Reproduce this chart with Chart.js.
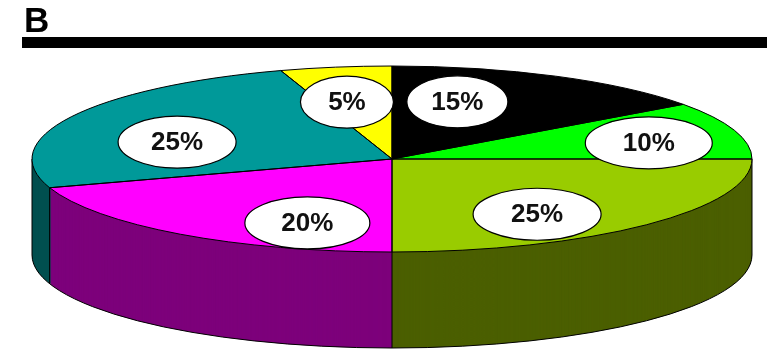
<!DOCTYPE html>
<html lang="en">
<head>
<meta charset="UTF-8">
<title>Pie B</title>
<script src="https://cdn.jsdelivr.net/npm/chart.js"></script>
<style>
    body { margin: 0; background: #ffffff; }
    .wrap { width: 767px; height: 350px; position: relative; }
</style>
</head>
<body>
<div class="wrap"><canvas id="pieChart"></canvas></div>
<script>
// slices go clockwise from 12 o'clock
var slices = ['Black', 'Green', 'Yellow green', 'Magenta', 'Teal', 'Yellow'];
var shares = [15, 10, 25, 20, 25, 5];
var topColors = ['#000000', '#00ff00', '#99cc00', '#ff00ff', '#009999', '#ffff00'];
var sideColors = ['#000000', '#008000', '#4b5f00', '#7d007b', '#004f4f', '#808000'];

// where each label bubble sits, as a fraction of the radius along the slice's mid angle
var labelFx = [0.40, 0.75, 0.57, 0.40, 0.67, 0.80];
var labelFy = [0.69, 0.56, 0.84, 0.85, 0.40, 0.62];
var labelW = [101, 127, 128, 125, 118, 93];

var TOP_Y = 159;          // centre of the top face on screen
var SQUASH = 93 / 360;    // tilt of the disc
var DEPTH = 96;           // thickness of the disc
var FONT = 'Arial, "Liberation Sans", sans-serif';

function tilt(ctx, arc, dy) {
    ctx.translate(arc.x, TOP_Y + dy);
    ctx.scale(1, SQUASH);
    ctx.translate(-arc.x, -arc.y);
}

var pie3d = {
    id: 'pie3d',
    beforeDatasetsDraw: function (chart) {
        var ctx = chart.ctx;
        var arcs = chart.getDatasetMeta(0).data;
        var a0 = arcs[0];
        var R = a0.outerRadius, cx = a0.x;

        // heavy rule under the title
        ctx.save();
        ctx.fillStyle = '#000';
        ctx.fillRect(22, 37, 745, 11);
        ctx.restore();

        // side wall: darker copies of every slice stacked downwards
        for (var d = DEPTH; d > 0; d--) {
            ctx.save();
            tilt(ctx, a0, d);
            arcs.forEach(function (arc, i) {
                var o = arc.options, bg = o.backgroundColor;
                o.backgroundColor = sideColors[i];
                arc.draw(ctx);
                o.backgroundColor = bg;
            });
            ctx.restore();
        }

        // outline of the wall
        ctx.save();
        ctx.strokeStyle = '#000';
        ctx.lineWidth = 1;
        ctx.beginPath();
        ctx.ellipse(cx, TOP_Y + DEPTH, R, R * SQUASH, 0, 0, Math.PI);
        ctx.moveTo(cx + R, TOP_Y);
        ctx.lineTo(cx + R, TOP_Y + DEPTH);
        ctx.moveTo(cx - R, TOP_Y);
        ctx.lineTo(cx - R, TOP_Y + DEPTH);
        arcs.forEach(function (arc) {
            var s = Math.sin(arc.startAngle);
            if (s > 0.001) {
                var x = cx + R * Math.cos(arc.startAngle);
                var y = TOP_Y + R * SQUASH * s;
                ctx.moveTo(x, y);
                ctx.lineTo(x, y + DEPTH);
            }
        });
        ctx.stroke();
        ctx.restore();

        // top face is drawn by chart.js under the tilt
        ctx.save();
        tilt(ctx, a0, 0);
    },
    afterDatasetsDraw: function (chart) {
        var ctx = chart.ctx;
        ctx.restore();
        var arcs = chart.getDatasetMeta(0).data;
        var a0 = arcs[0];
        var R = a0.outerRadius, cx = a0.x;

        // slice outlines on the top face
        ctx.save();
        ctx.strokeStyle = '#000';
        ctx.lineWidth = 1;
        arcs.forEach(function (arc) {
            ctx.beginPath();
            ctx.moveTo(cx, TOP_Y);
            ctx.lineTo(cx + R * Math.cos(arc.startAngle), TOP_Y + R * SQUASH * Math.sin(arc.startAngle));
            ctx.ellipse(cx, TOP_Y, R, R * SQUASH, 0, arc.startAngle, arc.endAngle);
            ctx.closePath();
            ctx.stroke();
        });

        // percentage bubbles
        ctx.font = 'bold 26px ' + FONT;
        ctx.textAlign = 'center';
        ctx.textBaseline = 'middle';
        arcs.forEach(function (arc, i) {
            var mid = (arc.startAngle + arc.endAngle) / 2;
            var lx = cx + R * labelFx[i] * Math.cos(mid);
            var ly = TOP_Y + R * SQUASH * labelFy[i] * Math.sin(mid);
            ctx.beginPath();
            ctx.ellipse(lx, ly, labelW[i] / 2, 26, 0, 0, Math.PI * 2);
            ctx.fillStyle = '#ffffff';
            ctx.fill();
            ctx.lineWidth = 1.2;
            ctx.strokeStyle = '#000';
            ctx.stroke();
            ctx.fillStyle = '#111';
            ctx.fillText(shares[i] + '%', lx, ly + 1);
        });
        ctx.restore();
    }
};

var ctx = document.getElementById('pieChart').getContext('2d');
var pieChart = new Chart(ctx, {
    type: 'pie',
    data: {
        labels: slices,
        datasets: [{
            data: shares,
            backgroundColor: topColors,
            borderWidth: 0,
            radius: 360,
            clip: false
        }]
    },
    options: {
        responsive: true,
        maintainAspectRatio: false,
        animation: false,
        events: [],
        layout: { padding: { left: 24, right: 7, top: 0, bottom: 0 } },
        plugins: {
            legend: { display: false },
            tooltip: { enabled: false },
            title: {
                display: true,
                text: 'B',
                align: 'start',
                color: '#000',
                font: { family: FONT, size: 35, weight: 'bold' },
                padding: { top: 1, bottom: 0 }
            }
        }
    },
    plugins: [pie3d]
});
</script>
</body>
</html>
